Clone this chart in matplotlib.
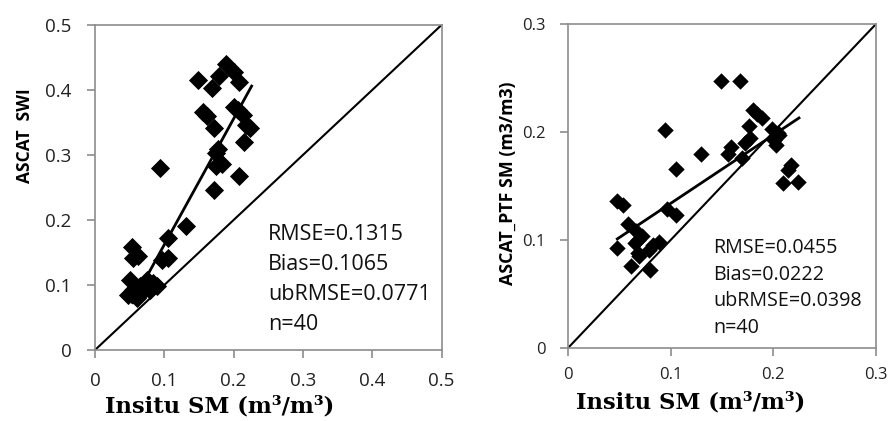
import numpy as np
import matplotlib
matplotlib.use("Agg")
import matplotlib.pyplot as plt

plt.rcParams['font.family'] = ['Open Sans', 'DejaVu Sans']

# ================================
# Data
# ================================
# left panel: in-situ SM vs ASCAT SWI
swi_x = [0.189, 0.201, 0.208, 0.179, 0.148, 0.169, 0.201, 0.207, 0.213, 0.156,
         0.161, 0.223, 0.218, 0.172, 0.215, 0.178, 0.175, 0.183, 0.175, 0.094,
         0.208, 0.171, 0.131, 0.105, 0.054, 0.062, 0.055, 0.106, 0.096, 0.050,
         0.048, 0.060, 0.065, 0.075, 0.084, 0.089, 0.079, 0.070, 0.055, 0.063]
swi_y = [0.440, 0.428, 0.412, 0.422, 0.416, 0.403, 0.374, 0.369, 0.362, 0.366,
         0.360, 0.341, 0.346, 0.341, 0.320, 0.310, 0.303, 0.286, 0.283, 0.280,
         0.267, 0.246, 0.191, 0.173, 0.159, 0.144, 0.141, 0.142, 0.138, 0.107,
         0.085, 0.080, 0.099, 0.108, 0.103, 0.098, 0.092, 0.092, 0.092, 0.087]
swi_trend_x = [0.054, 0.226]
swi_trend_y = [0.073, 0.406]
swi_stats = ["RMSE=0.1315", "Bias=0.1065", "ubRMSE=0.0771", "n=40"]

# right panel: in-situ SM vs ASCAT_PTF SM
ptf_x = [0.149, 0.168, 0.180, 0.184, 0.189, 0.176, 0.094, 0.199, 0.205, 0.201,
         0.203, 0.177, 0.172, 0.159, 0.156, 0.130, 0.169, 0.105, 0.217, 0.214,
         0.209, 0.224, 0.048, 0.054, 0.096, 0.105, 0.058, 0.066, 0.072, 0.065,
         0.089, 0.083, 0.079, 0.048, 0.068, 0.069, 0.061, 0.080, 0.068, 0.206]
ptf_y = [0.247, 0.247, 0.220, 0.217, 0.213, 0.206, 0.202, 0.203, 0.199, 0.193,
         0.188, 0.194, 0.190, 0.186, 0.180, 0.180, 0.176, 0.166, 0.169, 0.165,
         0.153, 0.154, 0.136, 0.132, 0.129, 0.123, 0.115, 0.108, 0.104, 0.097,
         0.098, 0.095, 0.091, 0.093, 0.088, 0.085, 0.076, 0.072, 0.100, 0.197]
ptf_trend_x = [0.048, 0.225]
ptf_trend_y = [0.101, 0.213]
ptf_stats = ["RMSE=0.0455", "Bias=0.0222", "ubRMSE=0.0398", "n=40"]

gray = '#8c8c8c'
serif = ['DejaVu Serif']

fig = plt.figure(figsize=(8.9, 4.21), dpi=100)
ax1 = fig.add_axes([95 / 890, 71 / 421, 346.5 / 890, 325 / 421])
ax2 = fig.add_axes([568 / 890, 73 / 421, 308 / 890, 324 / 421])


def style(ax, lim, ticks, fs, xpad, ypad):
    ax.set_xlim(0, lim)
    ax.set_ylim(0, lim)
    ax.set_xticks(ticks)
    ax.set_yticks(ticks)
    ax.set_xticklabels(["0"] + ["%.1f" % t for t in ticks[1:]])
    ax.set_yticklabels(["0"] + ["%.1f" % t for t in ticks[1:]])
    for s in ax.spines.values():
        s.set_color(gray)
        s.set_linewidth(1.2)
    ax.tick_params(direction='out', length=6, width=1.2, color=gray,
                   labelsize=fs, labelcolor='#222222')
    ax.tick_params(axis='x', pad=xpad)
    ax.tick_params(axis='y', pad=ypad)


# ---- left panel
ax1.scatter(swi_x, swi_y, marker='D', s=95, color='black', zorder=3, linewidths=0)
ax1.plot([0, 0.5], [0, 0.5], color='black', lw=1.5)
ax1.plot(swi_trend_x, swi_trend_y, color='black', lw=2)
style(ax1, 0.5, [0, 0.1, 0.2, 0.3, 0.4, 0.5], 13.5, 10, 11)
for i, t in enumerate(swi_stats):
    ax1.text(268, 421 - 235 - 30 * i, t, transform=None, fontsize=15.5,
             va='center', ha='left', color='#111111')

# ---- right panel
ax2.scatter(ptf_x, ptf_y, marker='D', s=70, color='black', zorder=3, linewidths=0)
ax2.plot([0, 0.3], [0, 0.3], color='black', lw=1.5)
ax2.plot(ptf_trend_x, ptf_trend_y, color='black', lw=2)
style(ax2, 0.3, [0, 0.1, 0.2, 0.3], 12, 8, 10)
for i, t in enumerate(ptf_stats):
    ax2.text(713, 421 - 248 - 26.7 * i, t, transform=None, fontsize=14.2,
             va='center', ha='left', color='#111111')

# axis labels
fig.text(220 / 890, 1 - 406 / 421, "Insitu SM (m³/m³)", fontsize=16.3,
         fontweight='bold', family=serif, ha='center', va='center')
fig.text(691 / 890, 1 - 402 / 421, "Insitu SM (m³/m³)", fontsize=16.3,
         fontweight='bold', family=serif, ha='center', va='center')
fig.text(25 / 890, 1 - 136 / 421, "ASCAT  SWI", fontsize=12.5,
         fontweight='bold', rotation=90, ha='center', va='center')
fig.text(508 / 890, 1 - 183 / 421, "ASCAT_PTF SM (m3/m3)", fontsize=12.8,
         fontweight='bold', rotation=90, ha='center', va='center')

plt.savefig("out.png", dpi=100)
